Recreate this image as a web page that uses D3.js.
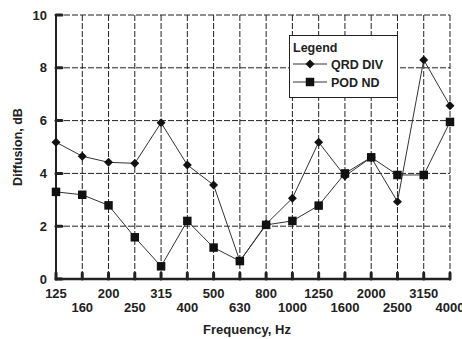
<!DOCTYPE html>
<html><head><meta charset="utf-8">
<script src="https://cdn.jsdelivr.net/npm/d3@7"></script>
<style>body{margin:0;background:#fff}text{font-family:"Liberation Sans",Arial,sans-serif;font-weight:bold;fill:#222}</style>
</head><body><svg id="c" width="462" height="339"></svg>
<script>
const categories = ["125","160","200","250","315","400","500","630","800","1000","1250","1600","2000","2500","3150","4000"];
const qrdDiv = [5.18,4.65,4.42,4.38,5.92,4.32,3.56,0.68,2.08,3.06,5.18,3.9,4.6,2.93,8.3,6.56];
const podNd  = [3.3,3.19,2.79,1.58,0.48,2.2,1.19,0.68,2.05,2.2,2.78,4.0,4.61,3.94,3.94,5.95];
const yTicks = [0,2,4,6,8,10];
const seriesNames = ["QRD DIV","POD ND"];

const svg = d3.select("#c");
const L=56,R=450,T=15,B=279;
const x = d3.scalePoint().domain(categories).range([L,R]);
const y = d3.scaleLinear().domain([0,10]).range([B,T]);
const ink="#222";

// grid
const g = svg.append("g");
g.selectAll(".vg").data(categories.slice(1)).enter().append("line")
 .attr("x1",d=>x(d)).attr("x2",d=>x(d)).attr("y1",T).attr("y2",B)
 .attr("stroke",ink).attr("stroke-width",1).attr("stroke-dasharray","6,2");
g.selectAll(".hg").data(yTicks.slice(1)).enter().append("line")
 .attr("x1",L).attr("x2",R).attr("y1",d=>y(d)).attr("y2",d=>y(d))
 .attr("stroke",ink).attr("stroke-width",1).attr("stroke-dasharray","6,2");

// axes
svg.append("line").attr("x1",L).attr("x2",L).attr("y1",T).attr("y2",B+1).attr("stroke",ink).attr("stroke-width",2);
svg.append("line").attr("x1",L-1).attr("x2",R+1).attr("y1",B).attr("y2",B).attr("stroke",ink).attr("stroke-width",2.5);
// tick marks
svg.selectAll(".xt").data(categories).enter().append("line")
 .attr("x1",d=>x(d)).attr("x2",d=>x(d)).attr("y1",B-6).attr("y2",B)
 .attr("stroke",ink).attr("stroke-width",3).attr("stroke-linecap","round");
svg.selectAll(".yt").data(yTicks).enter().append("line")
 .attr("x1",L).attr("x2",L+6).attr("y1",d=>y(d)).attr("y2",d=>y(d))
 .attr("stroke",ink).attr("stroke-width",3).attr("stroke-linecap","round");

// tick labels
svg.selectAll(".yl").data(yTicks).enter().append("text")
 .attr("x",L-9).attr("y",d=>y(d)+4.5).attr("text-anchor","end").attr("font-size",13).text(d=>d);
svg.selectAll(".xl").data(categories).enter().append("text")
 .attr("x",d=>x(d)).attr("y",(d,i)=>i%2===0?297.5:311.5).attr("text-anchor","middle").attr("font-size",13).text(d=>d);

// titles
svg.append("text").attr("x",247).attr("y",334).attr("text-anchor","middle").attr("font-size",13).text("Frequency, Hz");
svg.append("text").attr("transform","translate(22,147) rotate(-90)").attr("text-anchor","middle").attr("font-size",12.5).text("Diffusion, dB");

// series
const line = d3.line().x((d,i)=>x(categories[i])).y(d=>y(d));
const sc="#333";
svg.append("path").datum(podNd).attr("d",line).attr("fill","none").attr("stroke",sc).attr("stroke-width",1);
svg.append("path").datum(qrdDiv).attr("d",line).attr("fill","none").attr("stroke",sc).attr("stroke-width",1);
const square = d3.symbol().type(d3.symbolSquare).size(72);
const diamond = d3.symbol().type(d3.symbolSquare).size(40);
svg.selectAll(".sq").data(podNd).enter().append("path")
 .attr("d",square).attr("transform",(d,i)=>`translate(${x(categories[i])},${y(d)})`).attr("fill","#111");
svg.selectAll(".dm").data(qrdDiv).enter().append("path")
 .attr("d",diamond).attr("transform",(d,i)=>`translate(${x(categories[i])},${y(d)}) rotate(45)`).attr("fill","#111");

// legend
const lg = svg.append("g");
lg.append("rect").attr("x",289.5).attr("y",35.5).attr("width",108).attr("height",62).attr("fill","#fff").attr("stroke",ink).attr("stroke-width",1);
lg.append("text").attr("x",293).attr("y",52).attr("font-size",12.5).text("Legend");
const ly=[64,82];
seriesNames.forEach((n,i)=>{
  lg.append("line").attr("x1",293).attr("x2",327).attr("y1",ly[i]).attr("y2",ly[i]).attr("stroke",sc).attr("stroke-width",1);
  lg.append("path").attr("d", i===0? diamond() : square())
   .attr("transform",`translate(310,${ly[i]})`+(i===0?" rotate(45)":"")).attr("fill","#111");
  lg.append("text").attr("x",331).attr("y",ly[i]+4.5).attr("font-size",12.5).text(n);
});
</script></body></html>
